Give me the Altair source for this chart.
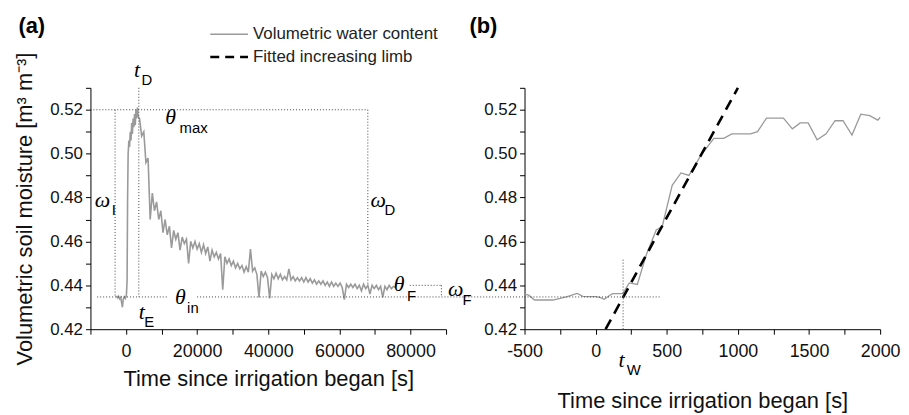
import altair as alt
import pandas as pd

# ---------------- data: panel (a) ----------------
rise_times = [-2700, -2400, -2100, -1800, -1500, -1200, -1000, -800, -500, -200, 100, 300,
              450, 600, 800, 1000, 1200, 1400, 1600, 1800, 2000, 2200, 2400, 2600, 2800,
              3000, 3200, 3400]
rise_values = [0.4352, 0.4343, 0.4350, 0.4338, 0.4345, 0.4318, 0.4300, 0.4335, 0.4348, 0.4340,
               0.4352, 0.4420, 0.4800, 0.5000, 0.5060, 0.5030, 0.5100, 0.5060, 0.5140, 0.5090,
               0.5160, 0.5120, 0.5180, 0.5130, 0.5200, 0.5160, 0.5210, 0.5170]

decay_times = [3800, 4400, 5000, 5600, 6200, 6800, 7400, 8000, 8600, 9200,
               9800, 10400, 11000, 11600, 12200, 12800, 13400, 14000, 14600, 15200,
               15800, 16400, 17000, 17600, 18200, 18800, 19400, 20000, 20600, 21200,
               21800, 22400, 23000, 23600, 24200, 24800, 25400, 26000, 26600, 27200,
               27800, 28400, 29000, 29600, 30200, 30800, 31400, 32000, 32600, 33200,
               33800, 34400, 35000, 35600, 36200, 36800, 37400, 38000, 38600, 39200,
               39800, 40400, 41000, 41600, 42200, 42800, 43400, 44000, 44600, 45200,
               45800, 46400, 47000, 47600, 48200, 48800, 49400, 50000, 50600, 51200,
               51800, 52400, 53000, 53600, 54200, 54800, 55400, 56000, 56600, 57200,
               57800, 58400, 59000, 59600, 60200, 60800, 61400, 62000, 62600, 63200,
               63800, 64400, 65000, 65600, 66200, 66800, 67400, 68000, 68600, 69200,
               69800, 70400, 71000, 71600, 72200, 72800, 73400, 74000, 74600, 75200,
               75800]
decay_values = [0.516, 0.508, 0.510, 0.496, 0.498, 0.470, 0.482, 0.474, 0.478, 0.470,
                0.474, 0.464, 0.470, 0.463, 0.467, 0.457, 0.465, 0.461, 0.464, 0.456,
                0.462, 0.459, 0.461, 0.450, 0.460, 0.457, 0.460, 0.4565, 0.459, 0.455,
                0.4585, 0.4545, 0.4575, 0.451, 0.456, 0.453, 0.455, 0.452, 0.4545, 0.438,
                0.453, 0.450, 0.452, 0.449, 0.451, 0.448, 0.450, 0.4475, 0.449, 0.446,
                0.4485, 0.446, 0.4565, 0.4465, 0.448, 0.445, 0.4345, 0.4465, 0.444, 0.446,
                0.4435, 0.434, 0.445, 0.443, 0.4455, 0.443, 0.445, 0.4425, 0.444, 0.4425,
                0.4475, 0.4425, 0.444, 0.442, 0.4435, 0.442, 0.4435, 0.4415, 0.4435, 0.4415,
                0.443, 0.441, 0.4425, 0.4405, 0.442, 0.4405, 0.442, 0.440, 0.4415, 0.4395,
                0.4415, 0.4395, 0.441, 0.4395, 0.441, 0.439, 0.4335, 0.4405, 0.439, 0.4405,
                0.439, 0.4405, 0.4385, 0.440, 0.4375, 0.4405, 0.4385, 0.440, 0.436, 0.440,
                0.4385, 0.440, 0.438, 0.4395, 0.4345, 0.4395, 0.438, 0.440, 0.4385, 0.4395,
                0.439]

# ---------------- data: panel (b) ----------------
b_times = [-500, -470, -430, -380, -300, -250, -200, -130, -90, -50, 0, 30, 60, 100, 120,
           190, 237, 293, 356, 426, 468, 538, 600, 656, 740, 831, 901, 957, 1089, 1138,
           1201, 1320, 1383, 1438, 1494, 1557, 1620, 1683, 1739, 1802, 1864, 1927, 1983, 2000]
b_values = [0.4360, 0.4355, 0.4333, 0.4333, 0.4333, 0.4340, 0.4348, 0.4363, 0.4350, 0.4348,
            0.4348, 0.4345, 0.4336, 0.4355, 0.4362, 0.4362, 0.4411, 0.4404, 0.4539, 0.4652,
            0.4668, 0.4856, 0.4912, 0.4901, 0.4992, 0.5070, 0.5070, 0.5090, 0.5090, 0.5100,
            0.5162, 0.5162, 0.5113, 0.5140, 0.5140, 0.5063, 0.5090, 0.5150, 0.5150, 0.5085,
            0.5180, 0.5173, 0.5153, 0.5165]
fit_times = [70, 1000]
fit_values = [0.420, 0.530]

# ---------------- characteristic values ----------------
theta_max = 0.520
theta_in = 0.4347
theta_F = 0.440
t_D = 3600
t_omega_I = -3070
t_omega_D = 68000
t_omega_F = 88700
t_W = 193

GRAY = "#9a9a9a"
DOT = "#444444"
SANS = "Liberation Sans"
SERIF = "Liberation Serif"
Y_TICKS = [0.42, 0.43, 0.44, 0.45, 0.46, 0.47, 0.48, 0.49, 0.50, 0.51, 0.52, 0.53]
Y_LABELS = "round(datum.value*100) % 2 == 0 ? format(datum.value, '.2f') : ''"

y_scale = alt.Scale(domain=[0.42, 0.53], nice=False, zero=False)
xa_scale = alt.Scale(domain=[-10000, 90000], nice=False, zero=False)
xb_scale = alt.Scale(domain=[-500, 2000], nice=False, zero=False)

ya = alt.Y("v:Q", scale=y_scale,
           axis=alt.Axis(values=Y_TICKS, labelExpr=Y_LABELS, titlePadding=13),
           title="Volumetric soil moisture [m³ m⁻³]")
xa = alt.X("t:Q", scale=xa_scale,
           axis=alt.Axis(values=list(range(-10000, 90001, 10000)),
                         labelExpr="datum.value % 20000 == 0 ? '' + datum.value : ''",
                         labelPadding=8, titlePadding=9),
           title="Time since irrigation began [s]")
xb = alt.X("t:Q", scale=xb_scale,
           axis=alt.Axis(values=list(range(-500, 2001, 250)),
                         labelExpr="datum.value % 500 == 0 ? '' + datum.value : ''",
                         labelPadding=8, titlePadding=31),
           title="Time since irrigation began [s]")
yb = alt.Y("v:Q", scale=y_scale, axis=alt.Axis(values=Y_TICKS, labelExpr=Y_LABELS, title=None))

# ---- panel (a)
a_series = pd.DataFrame({"t": rise_times + decay_times, "v": rise_values + decay_values})
a_line = alt.Chart(a_series).mark_line(color=GRAY, strokeWidth=1.6).encode(x=xa, y=ya)

a_rules = pd.DataFrame({
    "t":  [-8100, 20000, t_omega_I, -10000, t_D, t_omega_D, 79800, t_omega_F],
    "t2": [12000, 112100, t_omega_I, t_omega_D, t_D, t_omega_D, t_omega_F, t_omega_F],
    "v":  [theta_in, theta_in, theta_max, theta_max, 0.530, theta_max, theta_F, theta_F],
    "v2": [theta_in, theta_in, theta_in, theta_max, theta_in, theta_F, theta_F, theta_in],
})
a_rule = alt.Chart(a_rules).mark_rule(color=DOT, strokeDash=[1, 2], strokeWidth=1).encode(
    x=xa, x2="t2:Q", y=ya, y2="v2:Q")

a_sym = pd.DataFrame({
    "t": [-6600, 70900, 76800, 92700, 15300, 4460, 3070, 12560],
    "v": [0.4788, 0.4788, 0.4406, 0.4383, 0.4347, 0.4279, 0.5381, 0.5165],
    "s": ["ω", "ω", "θ", "ω", "θ", "t", "t", "θ"],
})
a_symt = alt.Chart(a_sym).mark_text(font=SERIF, fontStyle="italic", fontSize=22, color="black",
                                    align="center", baseline="middle").encode(
    x=xa, y=ya, text="s:N")

a_sub = pd.DataFrame({
    "t": [-3400, 74200, 80300, 95900, 18800, 6500, 5900, 19000],
    "v": [0.4745, 0.4743, 0.4351, 0.4333, 0.4297, 0.4234, 0.5336, 0.5115],
    "s": ["I", "D", "F", "F", "in", "E", "D", "max"],
})
a_subt = alt.Chart(a_sub).mark_text(font=SANS, fontSize=15, color="black",
                                    align="center", baseline="middle").encode(
    x=xa, y=ya, text="s:N")

leg_lines = pd.DataFrame({"t": [23700, 23700], "t2": [34300, 34300], "v": [0.5544, 0.5440]})
leg1 = alt.Chart(leg_lines.iloc[[0]]).mark_rule(color=GRAY, strokeWidth=1.4).encode(
    x=xa, x2="t2:Q", y=ya)
leg2 = alt.Chart(leg_lines.iloc[[1]]).mark_rule(color="black", strokeWidth=2.5, strokeDash=[9, 6]).encode(
    x=xa, x2="t2:Q", y=ya)
leg_text = alt.Chart(pd.DataFrame({"t": [35700, 35700], "v": [0.5544, 0.5440],
                                   "s": ["Volumetric water content", "Fitted increasing limb"]})
                     ).mark_text(font=SANS, fontSize=17, color="#222222", align="left",
                                 baseline="middle").encode(x=xa, y=ya, text="s:N")

a_tag = alt.Chart(pd.DataFrame({"t": [-26500], "v": [0.5581], "s": ["(a)"]})).mark_text(
    font=SANS, fontSize=22, fontWeight="bold", color="black", align="center", baseline="middle").encode(
    x=xa, y=ya, text="s:N")

panel_a = alt.layer(a_line, a_rule, a_symt, a_subt, leg1, leg2, leg_text, a_tag).properties(
    width=358, height=243)

# ---- panel (b)
b_line = alt.Chart(pd.DataFrame({"t": b_times, "v": b_values})).mark_line(
    color=GRAY, strokeWidth=1.3).encode(x=xb, y=yb)
b_fit = alt.Chart(pd.DataFrame({"t": fit_times, "v": fit_values})).mark_line(
    color="black", strokeWidth=2.6, strokeDash=[11, 7]).encode(x=xb, y=yb)
b_rules = pd.DataFrame({"t": [-500, t_W], "t2": [454, t_W],
                        "v": [theta_in, 0.420], "v2": [theta_in, 0.4524]})
b_rule = alt.Chart(b_rules).mark_rule(color=DOT, strokeDash=[1, 2], strokeWidth=1).encode(
    x=xb, x2="t2:Q", y=yb, y2="v2:Q")
b_sym = alt.Chart(pd.DataFrame({"t": [182], "v": [0.4058], "s": ["t"]})).mark_text(
    font=SERIF, fontStyle="italic", fontSize=22, color="black", align="center", baseline="middle").encode(
    x=xb, y=yb, text="s:N")
b_sub = alt.Chart(pd.DataFrame({"t": [268], "v": [0.4013], "s": ["W"]})).mark_text(
    font=SANS, fontSize=15, color="black", align="center", baseline="middle").encode(
    x=xb, y=yb, text="s:N")
b_tag = alt.Chart(pd.DataFrame({"t": [-789], "v": [0.5581], "s": ["(b)"]})).mark_text(
    font=SANS, fontSize=22, fontWeight="bold", color="black", align="center", baseline="middle").encode(
    x=xb, y=yb, text="s:N")

panel_b = alt.layer(b_line, b_fit, b_rule, b_sym, b_sub, b_tag).properties(width=358, height=243)

chart = alt.hconcat(panel_a, panel_b, spacing=79, bounds="flush").properties(
    padding={"left": 5, "top": 5, "right": 0, "bottom": 0}
).configure_view(stroke=None).configure_axis(
    grid=False, domainColor="black", tickColor="black", labelColor="#111111", titleColor="#111111",
    labelFont=SANS, titleFont=SANS, labelFontSize=17, titleFontSize=22, titleFontWeight="normal",
    tickSize=5, domainWidth=1, tickWidth=1, labelFlush=False, labelOverlap=False, labelPadding=3
).configure_axisX(labelFontSize=18)

chart.save("out.html", embed_options={"renderer": "svg", "actions": False})
